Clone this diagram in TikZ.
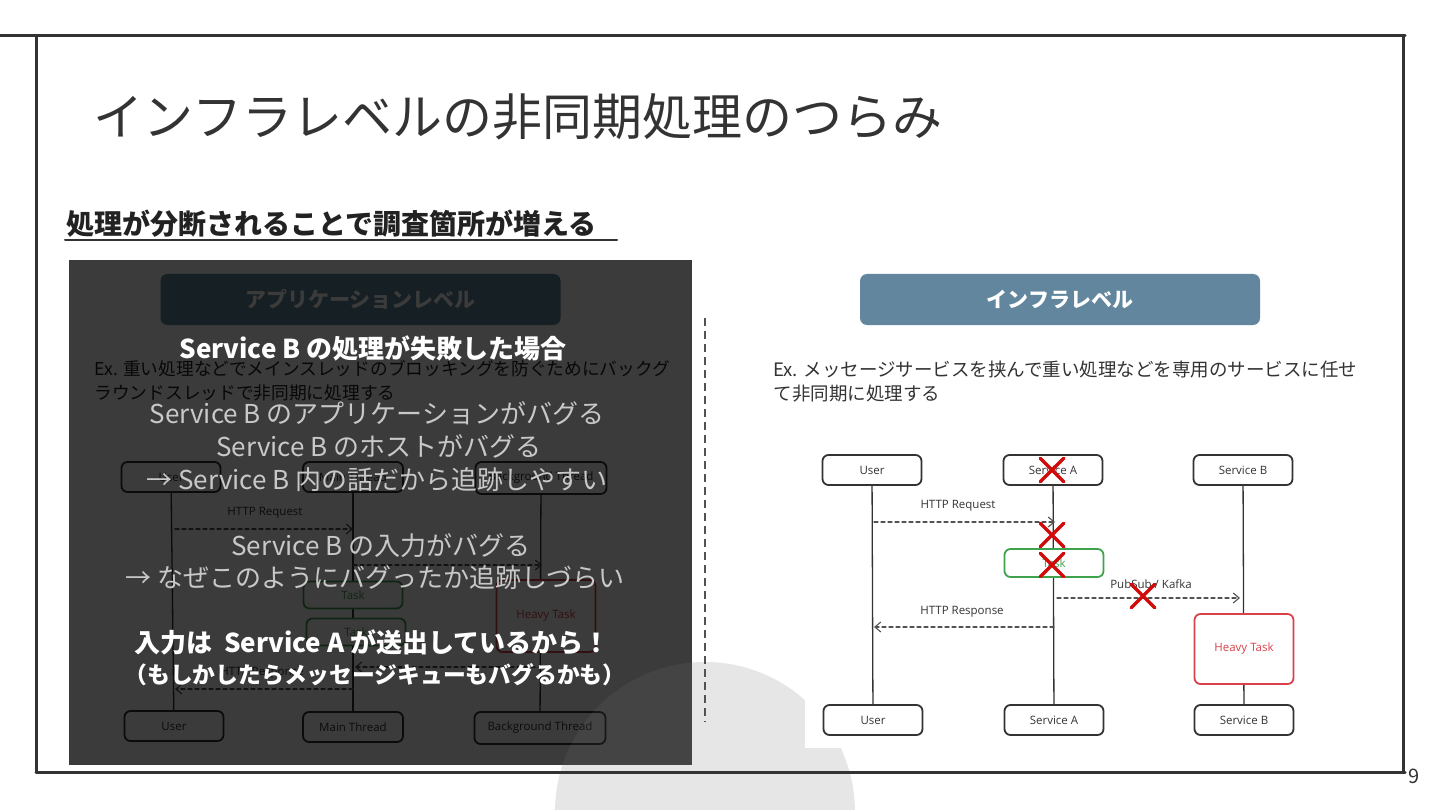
\documentclass[tikz,border=0pt]{standalone}
\usepackage{fontspec}
\setmainfont{Noto Sans CJK JP}
\newfontfamily\handfont{Open Sans}
\usetikzlibrary{
    arrows.meta,
    positioning,
    shapes.misc
}
\definecolor{ink}{HTML}{333333}
\definecolor{deepink}{HTML}{222222}
\definecolor{steel}{HTML}{62869E}
\definecolor{lightink}{HTML}{C8C8C8}
\definecolor{taskgreen}{HTML}{3FA34D}
\definecolor{taskred}{HTML}{D9424A}
\definecolor{xred}{HTML}{D10A0A}
\definecolor{bubble}{HTML}{E6E6E6}
\tikzstyle{actor} = [draw=ink,line width=1.8pt,rounded corners=6pt,fill=white,
    minimum width=99pt,minimum height=30pt,inner sep=0pt,
    text=ink,font=\handfont\fontsize{11.5}{11.5}\selectfont]
\tikzstyle{lifeline} = [ink,line width=1.3pt]
\tikzstyle{msg} = [ink!85,line width=1.1pt,dash pattern=on 4pt off 3pt,
    -{Straight Barb[length=6pt,width=10pt]}]
\tikzstyle{msglabel} = [text=ink,font=\handfont\fontsize{11.5}{11.5}\selectfont]
\tikzstyle{xmark} = [cross out,draw=xred,line width=3.5pt,minimum size=20pt,inner sep=0pt]
\tikzstyle{levelbtn} = [fill=steel,rounded corners=7pt,minimum width=400pt,minimum height=51pt,
    text=white,font=\bfseries\fontsize{21}{21}\selectfont]

\begin{document}
\begin{tikzpicture}[
        x=1pt,y=-1pt,
        line cap=round,
        line join=round
    ]

        \useasboundingbox (0,0) rectangle (1440,810);
        \fill[white] (0,0) rectangle (1440,810);

        % 背景の円
        \fill[bubble] (705,812) circle (150);

        % 枠線
        \draw[ink,line width=3pt] (0,36) -- (1405,36);
        \draw[ink,line width=3pt] (1403,36) -- (1403,772);
        \draw[ink,line width=3pt] (36,772) -- (1405,772);
        \draw[ink,line width=3pt] (36,36) -- (36,772);

        % タイトル
        \node[anchor=west,text=ink,font=\fontsize{50}{50}\selectfont]
            (title) at (90,117) {インフラレベルの非同期処理のつらみ};
        \node[anchor=west,text=deepink,font=\bfseries\fontsize{28}{28}\selectfont]
            (sub) at (63,224) {処理が分断されることで調査箇所が増える};
        \draw[ink,line width=2pt] (65,240) -- (617,240);

        % 左: アプリケーションレベル (下地)
        \fill[white] (69,260) rectangle (692,765);
        \node[levelbtn] (appbtn) at (360.5,299.5) {アプリケーションレベル};
        \node[anchor=north west,align=left,text=deepink,font=\fontsize{17.7}{23.5}\selectfont]
            (appex) at (91,357) {Ex. 重い処理などでメインスレッドのブロッキングを防ぐためにバックグ\\ラウンドスレッドで非同期に処理する};

        \node[actor] (user1) at (171,477) {User};
        \node[actor,minimum width=100pt] (main1) at (353,477) {Main Thread};
        \node[actor,minimum width=131pt,minimum height=32pt] (bg1) at (541,478) {Background Thread};
        \node[actor] (user2) at (174,726) {User};
        \node[actor,minimum width=100pt] (main2) at (353,727) {Main Thread};
        \node[actor,minimum width=131pt,minimum height=32pt] (bg2) at (540,728) {Background Thread};

        \draw[lifeline] (user1) -- (user2);
        \draw[lifeline] (main1) -- (main2);
        \draw[lifeline] (bg1) -- (bg2);

        \node[actor,draw=taskgreen,text=taskgreen,minimum height=27pt] (task1) at (353,595) {Task};
        \node[actor,draw=taskgreen,text=taskgreen,minimum height=27pt] (task2) at (356,632) {Task};
        \node[actor,draw=taskred,text=taskred,minimum height=72pt] (heavy1) at (546,616) {Heavy Task};

        \coordinate (lreq0) at (175,529);
        \coordinate (lreq1) at (353,529);
        \coordinate (lbg0) at (353,565);
        \coordinate (lbg1) at (542,565);
        \coordinate (lret0) at (542,667);
        \coordinate (lret1) at (355,667);
        \coordinate (lres0) at (353,689);
        \coordinate (lres1) at (175,689);
        \draw[msg] (lreq0) -- (lreq1);
        \draw[msg] (lbg0) -- (lbg1);
        \draw[msg] (lret0) -- (lret1);
        \draw[msg] (lres0) -- (lres1);
        \node[msglabel] (lreqlbl) at (265,513) {HTTP Request};
        \node[msglabel] (lreslbl) at (262,673) {HTTP Response};

        % 暗いオーバーレイ
        \fill[black,opacity=0.77] (69,260) rectangle (692,765);
        \begin{scope}
            \clip (69,260) rectangle (692,765);
            \fill[white,opacity=0.05] (705,812) circle (150);
        \end{scope}

        % オーバーレイ上の文字
        \node[text=white,font=\bfseries\fontsize{26}{26}\selectfont]
            (failhead) at (373,348) {Service B の処理が失敗した場合};
        \node[text=lightink,font=\fontsize{26}{26}\selectfont]
            (case1) at (377,413) {Service B のアプリケーションがバグる};
        \node[text=lightink,font=\fontsize{26}{26}\selectfont]
            (case2) at (379,446) {Service B のホストがバグる};
        \node[text=lightink,font=\fontsize{26}{26}\selectfont]
            (case3) at (377,480) {→ Service B 内の話だから追跡しやすい};
        \node[text=lightink,font=\fontsize{26}{26}\selectfont]
            (case4) at (381,546) {Service B の入力がバグる};
        \node[text=lightink,font=\fontsize{26}{26}\selectfont]
            (case5) at (375,578) {→ なぜこのようにバグったか追跡しづらい};
        \node[text=white,font=\bfseries\fontsize{26}{26}\selectfont]
            (cause) at (372,642) {入力は~ Service A が送出しているから！};
        \node[text=white,font=\bfseries\fontsize{22.8}{22.8}\selectfont]
            (causenote) at (375,675) {（もしかしたらメッセージキューもバグるかも）};

        % 区切り線
        \draw[ink!85,line width=2pt,line cap=butt,dash pattern=on 8pt off 5pt] (705,318) -- (705,722);

        % 右: インフラレベル
        \node[levelbtn] (infrabtn) at (1060,299.5) {インフラレベル};
        \node[anchor=north west,align=left,text=ink,font=\fontsize{18.5}{24}\selectfont]
            (infraex) at (770,357) {Ex. メッセージサービスを挟んで重い処理などを専用のサービスに任せ\\て非同期に処理する};

        % シーケンス図
        \fill[white] (805,443) rectangle (1330,748);
        \node[actor] (user3) at (872,470) {User};
        \node[actor] (svca3) at (1053,470) {Service A};
        \node[actor] (svcb3) at (1243,470) {Service B};
        \node[actor] (user4) at (873,720) {User};
        \node[actor] (svca4) at (1054,720) {Service A};
        \node[actor] (svcb4) at (1244,720) {Service B};

        \draw[lifeline] (user3) -- (user4);
        \draw[lifeline] (svca3) -- (svca4);
        \draw[lifeline] (svcb3) -- (svcb4);

        \node[actor,draw=taskgreen,text=taskgreen,minimum height=28pt] (task3) at (1054,563) {Task};
        \node[actor,draw=taskred,text=taskred,minimum height=70pt] (heavy3) at (1244,649) {Heavy Task};

        \coordinate (rreq0) at (874,522);
        \coordinate (rreq1) at (1055,522);
        \coordinate (rpub0) at (1057,598);
        \coordinate (rpub1) at (1240,598);
        \coordinate (rres0) at (1054,627);
        \coordinate (rres1) at (874,627);
        \draw[msg] (rreq0) -- (rreq1);
        \draw[msg] (rpub0) -- (rpub1);
        \draw[msg] (rres0) -- (rres1);
        \node[msglabel] (rreqlbl) at (958,506) {HTTP Request};
        \node[msglabel] (rpublbl) at (1151,584) {PubSub / Kafka};
        \node[msglabel] (rreslbl) at (962,612) {HTTP Response};

        % 障害箇所
        \node[xmark] (x1) at (1052,470) {};
        \node[xmark] (x2) at (1052,535) {};
        \node[xmark] (x3) at (1052,565) {};
        \node[xmark] (x4) at (1143,596) {};

        % ページ番号
        \node[text=ink,font=\fontsize{20}{20}\selectfont] (pageno) at (1414,776) {9};

    \end{tikzpicture}
\end{document}
